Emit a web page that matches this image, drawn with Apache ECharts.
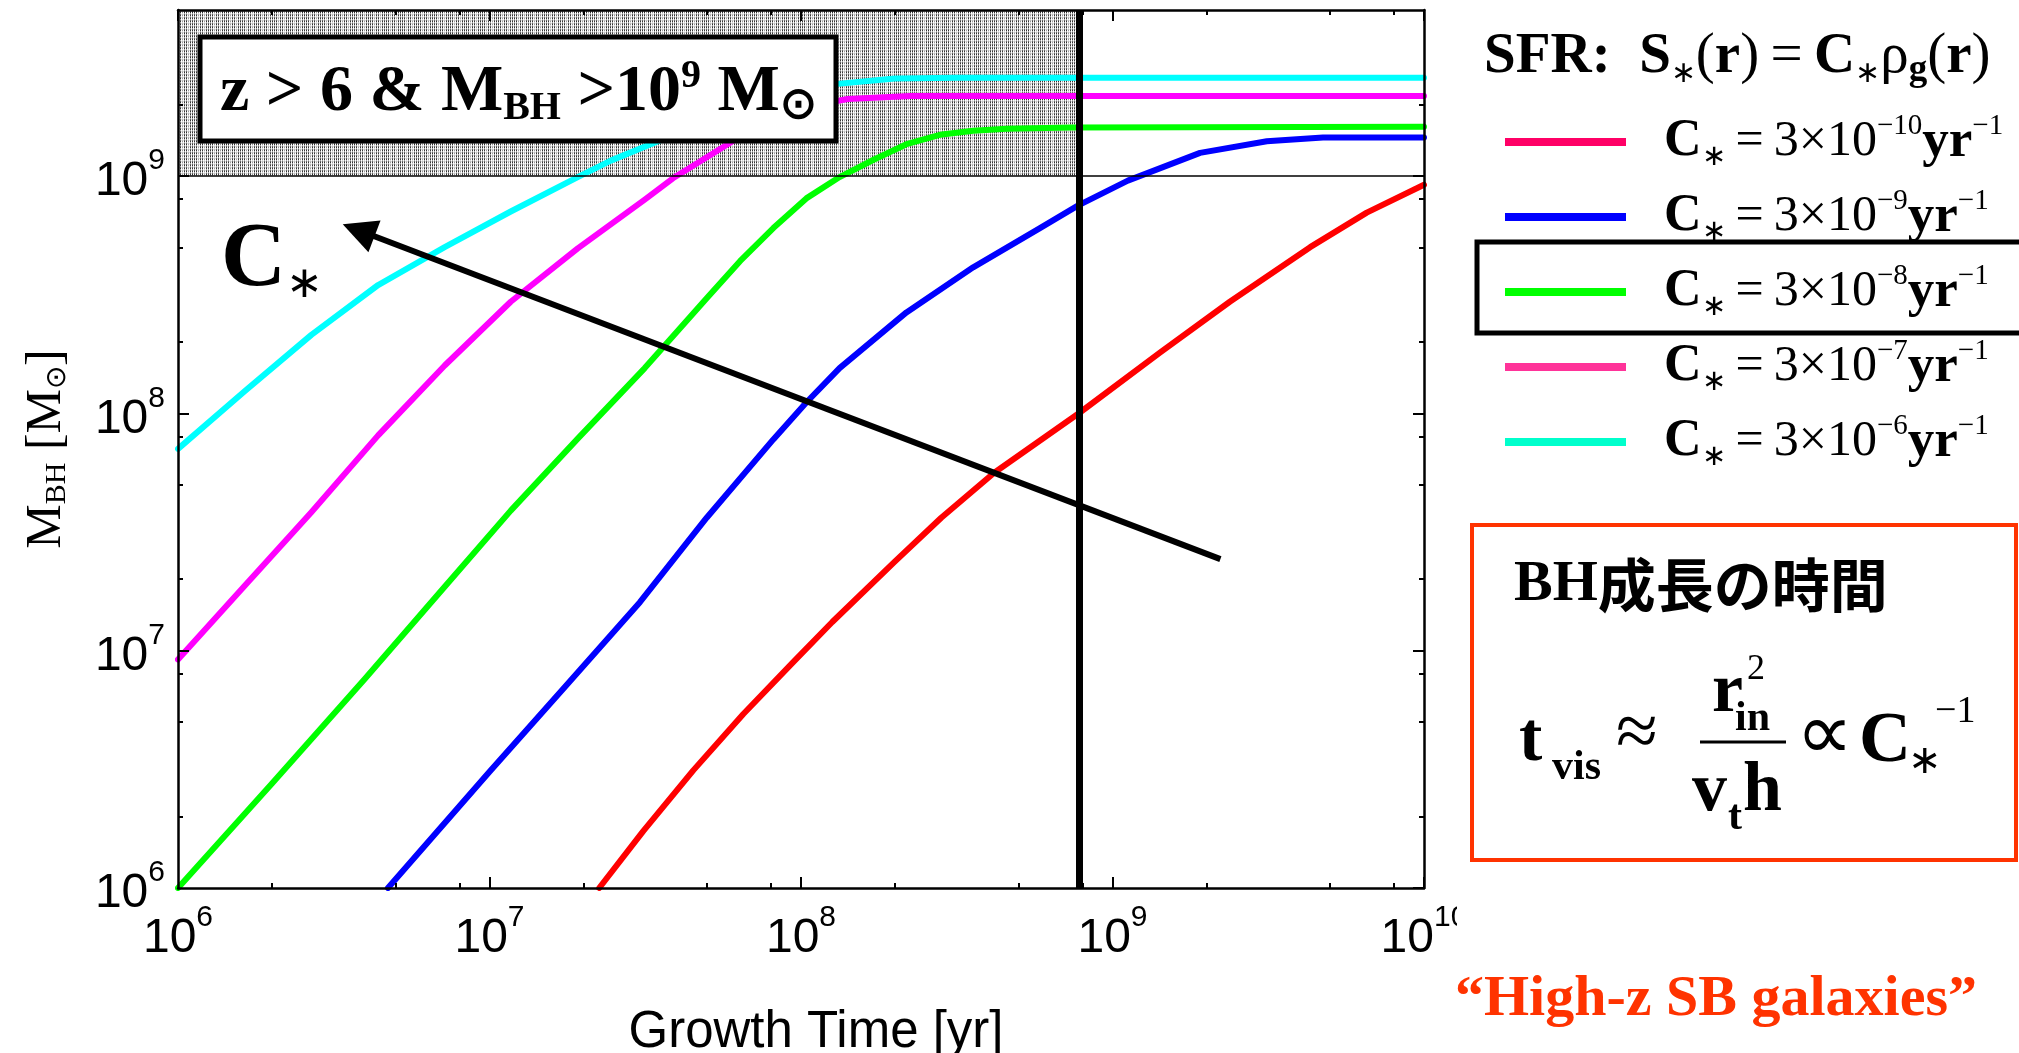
<!DOCTYPE html>
<html>
<head>
<meta charset="utf-8">
<script src="https://cdn.jsdelivr.net/npm/echarts@6/dist/echarts.min.js"></script>
<style>
  html, body { margin: 0; padding: 0; background: #ffffff; }
  #chart { width: 2019px; height: 1053px; }
</style>
</head>
<body>
<div id="chart"></div>
<script>
// Black-hole growth tracks: [growth time (yr), M_BH (Msun)] for each star-formation efficiency C*
const trackCm10 = [[2.25e7, 1.00e6], [3.12e7, 1.74e6], [4.51e7, 3.13e6], [6.53e7, 5.41e6], [9.44e7, 8.95e6],
  [1.26e8, 1.32e7], [2.00e8, 2.37e7], [2.82e8, 3.63e7], [4.17e8, 5.62e7], [7.80e8, 1.00e8],
  [1.42e9, 1.80e8], [2.38e9, 2.95e8], [4.31e9, 5.01e8], [6.55e9, 7.00e8], [1.00e10, 9.18e8]];
const trackCm9 = [[4.72e6, 1.00e6], [1.00e7, 3.09e6], [1.78e7, 7.24e6], [3.04e7, 1.60e7], [4.98e7, 3.63e7],
  [8.15e7, 7.76e7], [1.04e8, 1.11e8], [1.33e8, 1.55e8], [2.18e8, 2.66e8], [3.57e8, 4.12e8],
  [5.85e8, 6.03e8], [7.74e8, 7.50e8], [1.12e9, 9.55e8], [1.91e9, 1.25e9], [3.13e9, 1.40e9],
  [4.74e9, 1.45e9], [1.00e10, 1.45e9]];
const trackCm8 = [[1.00e6, 1.00e6], [2.00e6, 2.75e6], [3.97e6, 7.57e6], [7.18e6, 1.86e7], [1.17e7, 3.89e7],
  [1.92e7, 7.82e7], [3.15e7, 1.55e8], [4.98e7, 3.05e8], [6.37e7, 4.37e8], [8.15e7, 6.03e8],
  [1.04e8, 8.04e8], [1.33e8, 9.89e8], [1.71e8, 1.17e9], [2.18e8, 1.36e9], [2.79e8, 1.49e9],
  [3.57e8, 1.55e9], [4.57e8, 1.58e9], [7.41e8, 1.60e9], [1.00e10, 1.61e9]];
const trackCm7 = [[1.00e6, 9.18e6], [1.64e6, 1.88e7], [2.68e6, 3.83e7], [4.39e6, 8.07e7], [7.18e6, 1.59e8],
  [1.17e7, 2.95e8], [1.92e7, 4.95e8], [3.15e7, 7.94e8], [3.88e7, 9.77e8], [6.03e7, 1.40e9],
  [7.94e7, 1.70e9], [1.00e8, 1.93e9], [1.41e8, 2.11e9], [2.24e8, 2.17e9], [1.00e10, 2.17e9]];
const trackCm6 = [[1.00e6, 7.08e7], [1.64e6, 1.24e8], [2.68e6, 2.14e8], [4.39e6, 3.47e8], [7.18e6, 5.01e8],
  [1.17e7, 7.08e8], [1.92e7, 9.89e8], [2.45e7, 1.16e9], [3.52e7, 1.41e9], [5.01e7, 1.70e9],
  [7.94e7, 2.09e9], [1.26e8, 2.43e9], [2.00e8, 2.57e9], [3.16e8, 2.59e9], [1.00e10, 2.59e9]];

const efficiencyExponents = ['\u221210', '\u22129', '\u22128', '\u22127', '\u22126'];
const trackNames = ['C* = 3e-10', 'C* = 3e-9', 'C* = 3e-8', 'C* = 3e-7', 'C* = 3e-6'];
const trackColors = ['#ff0000', '#0000ff', '#00ff00', '#ff00ff', '#00ffff'];
const legendColors = ['#ff0066', '#0000ff', '#00ff00', '#ff3399', '#00ffcc'];

// Axis ranges and ticks
const timeRange = [1e6, 1e10];
const massRange = [1e6, 5e9];
const timeMajor = [1e6, 1e7, 1e8, 1e9, 1e10];
const timeMinor = [2e6, 5e6, 8e6, 2e7, 5e7, 8e7, 2e8, 5e8, 8e8, 2e9, 5e9, 8e9];
const massMajor = [1e6, 1e7, 1e8, 1e9];
const massMinor = [2e6, 5e6, 8e6, 2e7, 5e7, 8e7, 2e8, 5e8, 8e8, 2e9];

// Annotations: cosmic age at z ~ 6, the 10^9 Msun threshold and the C* trend arrow
const ageAtZ6 = 7.8e8;
const massThreshold = 1e9;
const trendArrowFrom = [2.22e9, 2.43e7];
const trendArrowTo = [3.8e6, 5.9e8];

const SERIF = "'Liberation Serif', 'Times New Roman', Times, serif";
const SANS = "'Liberation Sans', Arial, Helvetica, sans-serif";
const NARROW = "'Liberation Sans Narrow', 'Liberation Sans', Arial, sans-serif";
const CJK = "'Noto Sans CJK JP', 'Noto Sans CJK SC', sans-serif";

// Stippled fill for the forbidden (z > 6, M > 1e9) corner
function stipplePattern() {
  const c = document.createElement('canvas');
  c.width = 16; c.height = 3;
  const g = c.getContext('2d');
  g.fillStyle = '#ffffff';
  g.fillRect(0, 0, 16, 3);
  for (let x = 0; x < 16; x += 2) {
    const light = (x === 6 || x === 12);
    g.fillStyle = light ? '#9a9a9a' : '#333333'; g.fillRect(x, 0, 1, 1);
    g.fillStyle = light ? '#dddddd' : '#a8a8a8'; g.fillRect(x, 1, 1, 1);
    g.fillStyle = light ? '#bcbcbc' : '#666666'; g.fillRect(x, 2, 1, 1);
    g.fillStyle = '#e0e0e0'; g.fillRect(x + 1, 2, 1, 1);
  }
  return c;
}

function powerLabel(v) {
  const p = Math.log10(v);
  const r = Math.round(p);
  if (Math.abs(p - r) > 1e-6) return '';
  return '{b|10}{e|' + r + '}';
}
const powerRich = {
  b: { fontFamily: NARROW, fontSize: 48, color: '#000', lineHeight: 60, verticalAlign: 'bottom' },
  e: { fontFamily: NARROW, fontSize: 30, color: '#000', lineHeight: 24, verticalAlign: 'top' }
};

function logAxis(range, position, ticks, len, extra) {
  return Object.assign({
    type: 'log', min: range[0], max: range[1], position: position, z: 10,
    axisLine: { show: false, onZero: false },
    axisTick: { show: true, inside: true, length: len, customValues: ticks,
      lineStyle: { color: '#000', width: 2 } },
    axisLabel: { show: false },
    splitLine: { show: false },
    minorTick: { show: false }
  }, extra || {});
}
const frameLine = { show: true, onZero: false, lineStyle: { color: '#000', width: 2.5 } };

const xAxes = [
  logAxis(timeRange, 'bottom', timeMajor, 11, {
    axisLine: frameLine,
    axisLabel: { show: true, margin: 15, formatter: powerLabel, rich: powerRich },
    name: 'Growth Time [yr]', nameLocation: 'middle', nameGap: 119,
    nameTextStyle: { fontFamily: SANS, fontSize: 51, color: '#000', padding: [0, 0, 0, 30] }
  }),
  logAxis(timeRange, 'bottom', timeMinor, 5),
  logAxis(timeRange, 'top', timeMajor, 11, { axisLine: frameLine }),
  logAxis(timeRange, 'top', timeMinor, 5)
];
const yAxes = [
  logAxis(massRange, 'left', massMajor, 11, {
    axisLine: frameLine,
    axisLabel: { show: true, margin: 13, formatter: powerLabel, rich: powerRich, showMaxLabel: false },
    name: '{m|M}{sub|BH}{m| [M}{osub|\u2299}{m|]}', nameLocation: 'middle', nameRotate: 90, nameGap: 106,
    nameTextStyle: {
      color: '#000',
      rich: {
        m: { fontFamily: SERIF, fontSize: 50, color: '#000', lineHeight: 56, verticalAlign: 'bottom' },
        sub: { fontFamily: SERIF, fontSize: 30, color: '#000', lineHeight: 30, verticalAlign: 'bottom' },
        osub: { fontFamily: SERIF, fontSize: 28, color: '#000', lineHeight: 36, verticalAlign: 'bottom' }
      }
    }
  }),
  logAxis(massRange, 'left', massMinor, 5),
  logAxis(massRange, 'right', massMajor, 11, { axisLine: frameLine }),
  logAxis(massRange, 'right', massMinor, 5)
];

const tracks = [trackCm10, trackCm9, trackCm8, trackCm7, trackCm6];
const trackSeries = tracks.map((data, i) => ({
  type: 'line', name: trackNames[i], data: data, showSymbol: false, symbol: 'none',
  smooth: false, z: 3, silent: true,
  lineStyle: { color: trackColors[i], width: 6, join: 'round', cap: 'round' },
  itemStyle: { color: trackColors[i] }
}));

const chart = echarts.init(document.getElementById('chart'), null, { renderer: 'canvas' });

chart.setOption({
  animation: false,
  backgroundColor: '#ffffff',
  grid: { left: 178, top: 10, width: 1246, height: 878, containLabel: false, outerBoundsMode: 'none' },
  xAxis: xAxes,
  yAxis: yAxes,
  legend: {
    orient: 'vertical', left: 1500, top: 107, itemGap: 15,
    itemWidth: 121, itemHeight: 8, icon: 'rect', selectedMode: false,
    data: trackNames.map((n, i) => ({ name: n, itemStyle: { color: legendColors[i] } })),
    formatter: name => {
      const i = trackNames.indexOf(name);
      return '{pad|}{c|C}{s|\u2217}{n|\u2009=\u20093\u00d710}{e|' + efficiencyExponents[i] + '}{y|yr}{e|\u22121}';
    },
    textStyle: {
      rich: {
        pad: { width: 33 },
        c: { fontFamily: SERIF, fontWeight: 'bold', fontSize: 52, color: '#000', lineHeight: 60 },
        s: { fontFamily: SERIF, fontSize: 29, color: '#000', lineHeight: 24, verticalAlign: 'bottom' },
        n: { fontFamily: SERIF, fontSize: 50, color: '#000', lineHeight: 60 },
        e: { fontFamily: SERIF, fontSize: 29, color: '#000', lineHeight: 24, verticalAlign: 'top' },
        y: { fontFamily: SERIF, fontWeight: 'bold', fontSize: 53, color: '#000', lineHeight: 60 }
      }
    }
  },
  series: [
    {
      type: 'line', name: 'forbidden', data: [], z: 1, silent: true,
      markArea: {
        silent: true,
        itemStyle: { color: { image: stipplePattern(), repeat: 'repeat' }, opacity: 1 },
        data: [[{ xAxis: timeRange[0], yAxis: massThreshold }, { xAxis: ageAtZ6, yAxis: massRange[1] }]]
      },
      markLine: {
        silent: true, symbol: 'none', label: { show: false },
        lineStyle: { color: '#000', width: 1.5, type: 'solid' },
        data: [{ yAxis: massThreshold }]
      }
    }
  ].concat(trackSeries).concat([
    {
      type: 'line', name: 'age', data: [], z: 6, silent: true,
      markLine: {
        silent: true, symbol: 'none', label: { show: false },
        lineStyle: { color: '#000', width: 7, type: 'solid' },
        data: [{ xAxis: ageAtZ6 }]
      }
    },
    {
      type: 'line', name: 'trend', data: [], z: 6, silent: true, color: '#000',
      markLine: {
        silent: true, symbol: ['none', 'triangle'], symbolSize: 34, label: { show: false },
        lineStyle: { color: '#000', width: 6, type: 'solid', opacity: 1 },
        itemStyle: { color: '#000' },
        data: [[{ coord: trendArrowFrom }, { coord: trendArrowTo }]]
      }
    }
  ]),
  graphic: [
    // z > 6 & M_BH > 10^9 Msun tag
    { type: 'rect', z: 100, shape: { x: 200, y: 37, width: 636, height: 104 },
      style: { fill: '#ffffff', stroke: '#000', lineWidth: 5 } },
    { type: 'text', z: 101, x: 220, y: 93,
      style: {
        text: '{m|z > 6 & M}{sub|BH}{m| >10}{sup|9}{m| M}{o|\u2299}',
        align: 'left', verticalAlign: 'middle', textAlign: 'left', textVerticalAlign: 'middle',
        rich: {
          m: { fontFamily: SERIF, fontWeight: 'bold', fontSize: 66, fill: '#000', lineHeight: 72,
               textShadowColor: '#9a9a9a', textShadowOffsetX: 3, textShadowOffsetY: 3 },
          sub: { fontFamily: SERIF, fontWeight: 'bold', fontSize: 40, fill: '#000', lineHeight: 36, verticalAlign: 'bottom',
               textShadowColor: '#9a9a9a', textShadowOffsetX: 3, textShadowOffsetY: 3 },
          sup: { fontFamily: SERIF, fontWeight: 'bold', fontSize: 40, fill: '#000', lineHeight: 34, verticalAlign: 'top',
               textShadowColor: '#9a9a9a', textShadowOffsetX: 3, textShadowOffsetY: 3 },
          o: { fontFamily: SERIF, fontWeight: 'bold', fontSize: 44, fill: '#000', lineHeight: 42, verticalAlign: 'bottom' }
        }
      } },
    // C* label next to the arrow
    { type: 'text', z: 100, x: 221, y: 262,
      style: {
        text: '{c|C}{s|\u2217}', align: 'left', verticalAlign: 'middle', textAlign: 'left', textVerticalAlign: 'middle',
        rich: {
          c: { fontFamily: SERIF, fontWeight: 'bold', fontSize: 90, fill: '#000', lineHeight: 90 },
          s: { fontFamily: SERIF, fontSize: 44, fill: '#000', lineHeight: 32, verticalAlign: 'bottom' }
        }
      } },
    // SFR law heading above the legend
    { type: 'text', z: 100, x: 1484, y: 57,
      style: {
        text: '{h|SFR:}{r|  }{b|S}{s|\u2217}{r|(}{b|r}{r|)\u2009=\u2009}{b|C}{s|\u2217}{r|\u03c1}{g|g}{r|(}{b|r}{r|)}',
        align: 'left', verticalAlign: 'middle', textAlign: 'left', textVerticalAlign: 'middle',
        rich: {
          h: { fontFamily: SERIF, fontWeight: 'bold', fontSize: 57, fill: '#000', lineHeight: 64,
               textShadowColor: '#a0a0a0', textShadowOffsetX: 3, textShadowOffsetY: 3 },
          b: { fontFamily: SERIF, fontWeight: 'bold', fontSize: 57, fill: '#000', lineHeight: 64 },
          r: { fontFamily: SERIF, fontSize: 57, fill: '#000', lineHeight: 64 },
          s: { fontFamily: SERIF, fontSize: 30, fill: '#000', lineHeight: 34, verticalAlign: 'bottom' },
          g: { fontFamily: SERIF, fontWeight: 'bold', fontSize: 37, fill: '#000', lineHeight: 30, verticalAlign: 'bottom' }
        }
      } },
    // highlighted legend row
    { type: 'rect', z: 100, shape: { x: 1477, y: 242, width: 600, height: 91 },
      style: { fill: 'none', stroke: '#000', lineWidth: 5 } },
    // growth-time box
    { type: 'rect', z: 100, shape: { x: 1472, y: 525, width: 544, height: 335 },
      style: { fill: 'none', stroke: '#ff3300', lineWidth: 4 } },
    { type: 'text', z: 101, x: 1514, y: 585,
      style: {
        text: '{b|BH}{j|\u6210\u9577\u306e\u6642\u9593}', align: 'left', verticalAlign: 'middle',
        textAlign: 'left', textVerticalAlign: 'middle',
        rich: {
          b: { fontFamily: SERIF, fontWeight: 'bold', fontSize: 58, fill: '#000', lineHeight: 62 },
          j: { fontFamily: CJK, fontWeight: 'bold', fontSize: 58, fill: '#000', lineHeight: 62 }
        }
      } },
    { type: 'text', z: 101, x: 1519, y: 742, style: { text: 't', font: 'bold 70px ' + SERIF, fill: '#000', align: 'left', verticalAlign: 'middle' } },
    { type: 'text', z: 101, x: 1552, y: 768, style: { text: 'vis', font: 'bold 42px ' + SERIF, fill: '#000', align: 'left', verticalAlign: 'middle' } },
    { type: 'text', z: 101, x: 1616, y: 736, style: { text: '\u2248', font: '76px ' + SERIF, fill: '#000', align: 'left', verticalAlign: 'middle' } },
    { type: 'text', z: 101, x: 1712, y: 693, style: { text: 'r', font: 'bold 70px ' + SERIF, fill: '#000', align: 'left', verticalAlign: 'middle' } },
    { type: 'text', z: 101, x: 1747, y: 670, style: { text: '2', font: '36px ' + SERIF, fill: '#000', align: 'left', verticalAlign: 'middle' } },
    { type: 'text', z: 101, x: 1735, y: 719, style: { text: 'in', font: 'bold 42px ' + SERIF, fill: '#000', align: 'left', verticalAlign: 'middle' } },
    { type: 'line', z: 101, shape: { x1: 1700, y1: 742, x2: 1786, y2: 742 }, style: { stroke: '#000', lineWidth: 3 } },
    { type: 'text', z: 101, x: 1692, y: 792, style: { text: 'v', font: 'bold 70px ' + SERIF, fill: '#000', align: 'left', verticalAlign: 'middle' } },
    { type: 'text', z: 101, x: 1728, y: 818, style: { text: 't', font: 'bold 42px ' + SERIF, fill: '#000', align: 'left', verticalAlign: 'middle' } },
    { type: 'text', z: 101, x: 1743, y: 792, style: { text: 'h', font: 'bold 70px ' + SERIF, fill: '#000', align: 'left', verticalAlign: 'middle' } },
    { type: 'text', z: 101, x: 1796, y: 738, style: { text: '\u221d', font: '80px ' + SERIF, fill: '#000', align: 'left', verticalAlign: 'middle' } },
    { type: 'text', z: 101, x: 1859, y: 742, style: { text: 'C', font: 'bold 72px ' + SERIF, fill: '#000', align: 'left', verticalAlign: 'middle' } },
    { type: 'text', z: 101, x: 1908, y: 762, style: { text: '\u2217', font: '40px ' + SERIF, fill: '#000', align: 'left', verticalAlign: 'middle' } },
    { type: 'text', z: 101, x: 1935, y: 712, style: { text: '\u22121', font: '38px ' + SERIF, fill: '#000', align: 'left', verticalAlign: 'middle' } },
    // caption
    { type: 'text', z: 100, x: 1716, y: 1000,
      style: { text: '\u201cHigh-z SB galaxies\u201d', font: 'bold 58px ' + SERIF, fill: '#ff3300',
               align: 'center', verticalAlign: 'middle', textAlign: 'center', textVerticalAlign: 'middle',
               textShadowColor: '#a8a8a8', textShadowOffsetX: 3, textShadowOffsetY: 3 } },
    // the figure panel ends just right of the last time label
    { type: 'rect', z: 100, shape: { x: 1457, y: 893, width: 60, height: 70 }, style: { fill: '#ffffff' } }
  ]
});
</script>
</body>
</html>
